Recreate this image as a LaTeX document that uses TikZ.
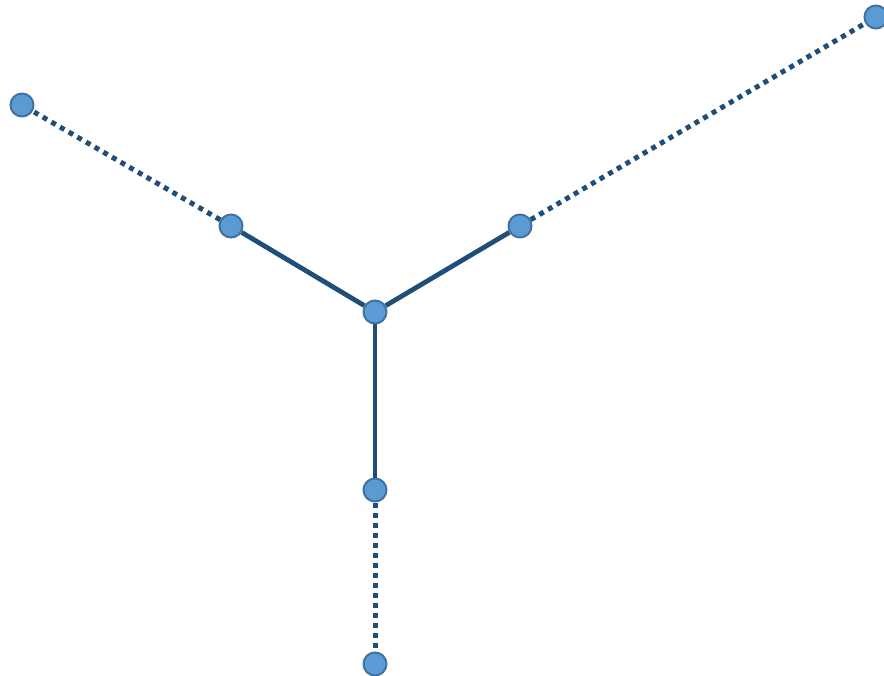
\documentclass[tikz,border=0pt]{standalone}
\usepackage{tikz}
\definecolor{vfill}{HTML}{5B9BD5}
\definecolor{vedge}{HTML}{41719C}
\definecolor{ebar}{HTML}{1F4E79}

\begin{document}
\begin{tikzpicture}[x=1pt,y=-1pt,
    vtx/.style={circle,fill=vfill,draw=vedge,line width=2pt,minimum size=23pt,inner sep=0pt},
    solidedge/.style={ebar,line width=4.8pt},
    dotedge/.style={ebar,line width=5pt,dash pattern=on 5pt off 5pt}]
  \useasboundingbox (0,0) rectangle (884,676);

  \node[vtx] (c)  at (375,312) {};
  \node[vtx] (l1) at (231,226) {};
  \node[vtx] (r1) at (520,226) {};
  \node[vtx] (b1) at (375,490) {};
  \node[vtx] (l2) at (22,105) {};
  \node[vtx] (r2) at (876,17) {};
  \node[vtx] (b2) at (375,664) {};

  \draw[solidedge] (c) -- (l1);
  \draw[solidedge] (c) -- (r1);
  \draw[solidedge] (c) -- (b1);
  \draw[dotedge] (l1) -- (l2);
  \draw[dotedge] (r1) -- (r2);
  \draw[dotedge] (b1) -- (b2);
\end{tikzpicture}
\end{document}
